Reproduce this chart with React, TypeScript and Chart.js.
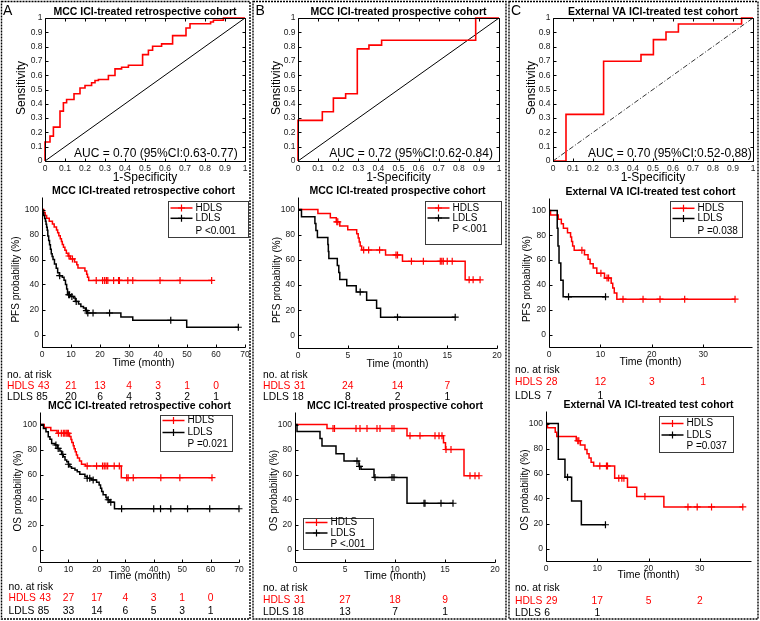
import React, { useEffect, useRef } from "react";
import { Chart, registerables } from "chart.js";

Chart.register(...registerables);

const FONT = '"Liberation Sans", Arial, Helvetica, sans-serif';
const RED = "#ff0000";
const BLACK = "#000000";
const TICK_COLOR = "#1a1a1a";
Chart.defaults.font.family = FONT;

// ---------------- shared labels / ticks ----------------
const rocTicks = [0, 0.1, 0.2, 0.3, 0.4, 0.5, 0.6, 0.7, 0.8, 0.9, 1];
const kmYTicks = [0, 20, 40, 60, 80, 100];
const timeTicksA = [0, 10, 20, 30, 40, 50, 60, 70];
const timeTicksB = [0, 5, 10, 15, 20];
const timeTicksC = [0, 10, 20, 30];
const riskTimesA = [0, 10, 20, 30, 40, 50, 60];
const riskTimesB = [0, 5, 10, 15];
const riskTimesC = [0, 10, 20, 30];

const groupNames = ["HDLS", "LDLS"];
const panelLetters = ["A", "B", "C"];
const cohortTitles = [
  "MCC ICI-treated retrospective cohort",
  "MCC ICI-treated prospective cohort",
  "External VA ICI-treated test cohort",
];
const aucLabels = [
  "AUC = 0.70 (95%CI:0.63-0.77)",
  "AUC = 0.72 (95%CI:0.62-0.84)",
  "AUC = 0.70 (95%CI:0.52-0.88)",
];
const pfsPLabels = ["P <0.001", "P <.001", "P =0.038"];
const osPLabels = ["P =0.021", "P <.001", "P =0.037"];
const rocXTitle = "1-Specificity";
const rocYTitle = "Sensitivity";
const kmXTitle = "Time (month)";
const pfsYTitle = "PFS probability (%)";
const osYTitle = "OS probability (%)";
const riskHeader = "no. at risk";

// ---------------- ROC curves ----------------
const diagX = [0, 1];
const diagY = [0, 1];
const rocA_fpr = [0, 0, 0.025, 0.042, 0.075, 0.092, 0.108, 0.145, 0.175, 0.2, 0.233, 0.25, 0.267, 0.317, 0.35, 0.383, 0.417, 0.488, 0.517, 0.538, 0.583, 0.638, 0.705, 0.725, 0.828, 0.842, 0.892, 1];
const rocA_tpr = [0, 0.133, 0.174, 0.237, 0.349, 0.407, 0.43, 0.47, 0.51, 0.528, 0.547, 0.563, 0.57, 0.598, 0.644, 0.656, 0.67, 0.744, 0.774, 0.802, 0.819, 0.877, 0.93, 0.96, 0.972, 0.984, 1, 1];
const rocB_fpr = [0, 0, 0.121, 0.176, 0.237, 0.295, 0.353, 0.416, 0.884, 1];
const rocB_tpr = [0, 0.284, 0.344, 0.44, 0.47, 0.784, 0.81, 0.844, 1, 1];
const rocC_fpr = [0, 0.065, 0.253, 0.44, 0.502, 0.565, 0.627, 0.943, 1];
const rocC_tpr = [0, 0.326, 0.698, 0.744, 0.849, 0.902, 0.958, 1, 1];

// ---------------- KM: PFS retrospective (A) ----------------
const pfsA_hdls_t = [0, 0.6, 1.1, 1.6, 2.5, 3.6, 4.2, 5.0, 5.4, 5.8, 6.3, 6.7, 7.0, 7.4, 7.9, 8.4, 9.0, 9.8, 11.2, 12.0, 12.4, 14.8, 15.4, 15.7, 16.1];
const pfsA_hdls_s = [100, 97.7, 95.3, 93.0, 90.7, 88.4, 86.0, 83.7, 81.4, 79.1, 76.7, 74.4, 72.1, 69.8, 67.4, 65.1, 62.8, 60.5, 58.1, 55.8, 53.3, 50.8, 48.3, 45.8, 43.3];
const pfsA_hdls_cens = [9.3, 10.5, 18.7, 20.9, 21.6, 22.2, 22.7, 24.7, 26.4, 26.7, 29.6, 31.3, 40.7, 47.6, 58.5];
const pfsA_ldls_t = [0, 0.3, 0.6, 0.9, 1.2, 1.4, 1.6, 1.8, 2.0, 2.3, 2.6, 2.9, 3.2, 3.5, 3.8, 4.3, 4.9, 5.4, 6.0, 7.0, 7.6, 8.1, 8.5, 8.8, 9.8, 10.9, 11.5, 12.6, 13.4, 14.3, 15.0, 15.6, 27.2, 31.3, 49.9];
const pfsA_ldls_s = [100, 97.6, 95.3, 92.9, 90.6, 88.2, 85.9, 83.5, 78.8, 75.3, 71.8, 68.2, 64.7, 62.4, 60.0, 56.5, 53.0, 49.4, 47.1, 45.9, 43.5, 40.0, 36.5, 31.8, 30.5, 29.2, 26.5, 24.4, 22.5, 21.2, 19.1, 17.2, 14.0, 11.4, 5.8];
const pfsA_ldls_cens = [6.1, 9.2, 9.5, 10.3, 11.8, 15.3, 15.8, 17.6, 23.3, 44.4, 67.7];
const pfsA_risk_hdls = [43, 21, 13, 4, 3, 1, 0];
const pfsA_risk_ldls = [85, 20, 6, 4, 3, 2, 1];

// ---------------- KM: OS retrospective (A) ----------------
const osA_hdls_t = [0, 1.5, 3.8, 6.0, 10.4, 10.9, 11.2, 11.7, 12.0, 12.4, 12.8, 13.2, 13.9, 14.6, 16.0, 28.6];
const osA_hdls_s = [100, 97.7, 95.3, 93.0, 90.5, 88.0, 85.6, 83.1, 80.6, 78.2, 75.7, 73.2, 70.8, 68.3, 66.8, 57.5];
const osA_hdls_cens = [6.5, 7.5, 8.2, 8.7, 9.2, 9.6, 10.0, 16.6, 19.9, 22.0, 22.6, 23.2, 23.8, 26.1, 27.9, 30.5, 31.0, 32.8, 42.5, 49.2, 60.5];
const osA_ldls_t = [0, 1.2, 2.1, 2.9, 3.5, 4.1, 5.3, 6.1, 7.0, 7.6, 8.2, 8.8, 9.4, 10.0, 10.5, 11.1, 12.3, 13.1, 14.0, 15.8, 16.6, 18.1, 19.9, 20.8, 21.3, 21.7, 22.2, 23.2, 23.6, 24.6, 26.2];
const osA_ldls_s = [100, 96.8, 94.2, 90.2, 88.3, 84.9, 83.6, 80.9, 78.8, 76.1, 74.3, 71.6, 70.3, 68.2, 66.3, 65.0, 63.7, 62.3, 60.2, 58.4, 57.0, 55.7, 53.8, 51.7, 49.1, 46.4, 43.8, 41.6, 39.8, 37.9, 32.6];
const osA_ldls_cens = [5.6, 6.4, 8.0, 10.0, 16.6, 17.5, 18.7, 24.0, 24.9, 28.7, 40.0, 42.4, 46.0, 51.9, 59.7, 70.0];
const osA_risk_hdls = [43, 27, 17, 4, 3, 1, 0];
const osA_risk_ldls = [85, 33, 14, 6, 5, 3, 1];

// ---------------- KM: PFS prospective (B) ----------------
const pfsB_hdls_t = [0, 2.0, 3.25, 3.85, 4.2, 5.0, 5.9, 6.05, 6.15, 6.25, 6.4, 8.8, 10.5, 16.8];
const pfsB_hdls_s = [100, 96.8, 93.5, 90.3, 87.0, 84.0, 80.7, 77.5, 74.3, 71.1, 67.9, 64.0, 58.9, 44.2];
const pfsB_hdls_cens = [3.9, 4.0, 6.6, 7.1, 8.2, 9.85, 10.0, 11.4, 12.6, 14.3, 14.45, 14.6, 15.0, 15.5, 17.2, 17.6, 18.3];
const pfsB_ldls_t = [0, 0.35, 1.7, 1.8, 1.95, 3.0, 3.05, 3.1, 3.95, 4.1, 4.2, 4.9, 5.85, 6.9, 7.9, 8.3];
const pfsB_ldls_s = [100, 94.4, 88.9, 83.3, 77.8, 72.2, 66.7, 61.1, 55.6, 50.0, 44.4, 39.5, 34.5, 27.9, 21.5, 14.5];
const pfsB_ldls_cens = [6.25, 10.0, 15.8];
const pfsB_risk_hdls = [31, 24, 14, 7];
const pfsB_risk_ldls = [18, 8, 2, 1];

// ---------------- KM: OS prospective (B) ----------------
const osB_hdls_t = [0, 3.2, 11.2, 14.85, 15.05, 16.9];
const osB_hdls_s = [100, 96.8, 91.0, 85.5, 80.0, 59.0];
const osB_hdls_cens = [3.8, 3.95, 6.1, 6.5, 7.2, 8.2, 8.5, 9.7, 9.9, 11.5, 12.5, 14.0, 14.4, 14.7, 15.1, 15.6, 17.5, 18.0, 18.4];
const osB_ldls_t = [0, 0.2, 2.5, 2.7, 4.1, 4.9, 6.4, 6.6, 7.9, 11.2];
const osB_ldls_s = [100, 94.4, 88.9, 82.8, 76.7, 70.8, 66.5, 64.2, 57.7, 37.0];
const osB_ldls_cens = [6.2, 6.45, 8.0, 9.7, 9.9, 12.9, 13.0, 14.6, 15.8];
const osB_risk_hdls = [31, 27, 18, 9];
const osB_risk_ldls = [18, 13, 7, 1];

// ---------------- KM: PFS external (C) ----------------
const pfsC_hdls_t = [0, 0.3, 1.8, 2.4, 2.8, 3.6, 4.2, 4.4, 4.6, 4.9, 6.9, 7.6, 8.0, 8.6, 9.3, 10.8, 12.1, 12.4, 12.7, 13.2];
const pfsC_hdls_s = [100, 96.4, 92.9, 89.3, 85.7, 82.1, 78.6, 75.0, 71.4, 67.9, 64.3, 60.7, 57.1, 53.6, 49.3, 45.5, 41.3, 37.5, 33.5, 28.5];
const pfsC_hdls_cens = [6.4, 10.1, 11.3, 11.6, 14.4, 18.3, 21.6, 26.4, 36.2];
const pfsC_ldls_t = [0, 1.6, 1.75, 1.95, 2.3, 2.75];
const pfsC_ldls_s = [100, 85.7, 71.4, 57.7, 43.8, 30.4];
const pfsC_ldls_cens = [3.8, 11.0];
const pfsC_risk_hdls = [28, 12, 3, 1];
const pfsC_risk_ldls = [7, 1];

// ---------------- KM: OS external (C) ----------------
const osC_hdls_t = [0, 0.3, 1.8, 2.1, 5.9, 6.7, 7.6, 8.0, 8.4, 8.8, 9.3, 13.4, 15.9, 17.7, 23.0];
const osC_hdls_s = [100, 96.6, 93.1, 89.7, 86.2, 82.8, 79.3, 75.9, 72.4, 69.0, 66.0, 56.3, 49.1, 41.6, 33.3];
const osC_hdls_cens = [6.2, 6.4, 10.5, 11.8, 12.0, 14.2, 14.8, 15.2, 19.3, 27.7, 29.5, 32.3, 38.4];
const osC_ldls_t = [0, 2.4, 3.7, 5.0, 6.9];
const osC_ldls_s = [100, 71.4, 57.1, 38.1, 19.0];
const osC_ldls_cens = [4.2, 11.6];
const osC_risk_hdls = [29, 17, 5, 2];
const osC_risk_ldls = [6, 1];

// ---------------- helpers ----------------
function stepAt(ts: number[], ss: number[], t: number) {
  let v = ss[0];
  for (let i = 0; i < ts.length; i++) if (ts[i] <= t) v = ss[i];
  return v;
}

const Y_AXIS_W = 20;
const X_AXIS_H = 12;

function padFor(spec: any) {
  const c = spec.canvas, p = spec.plot;
  return {
    left: p.l - c.x - Y_AXIS_W,
    top: p.t - c.y,
    right: c.x + c.w - p.r,
    bottom: c.y + c.h - p.b - X_AXIS_H,
  };
}

function linAxis(min: number, max: number, ticks: number[], pad: number, prop: string, size: number) {
  return {
    type: "linear",
    min,
    max,
    afterBuildTicks: (s: any) => {
      s.ticks = ticks.map((v) => ({ value: v }));
    },
    afterFit: (s: any) => {
      s[prop] = size;
    },
    ticks: {
      autoSkip: false,
      maxRotation: 0,
      minRotation: 0,
      padding: pad,
      color: TICK_COLOR,
      font: { family: FONT, size: 8.5 },
      callback: (v: any) => String(v),
    },
    grid: { display: false, drawTicks: false },
    border: { display: false },
  };
}

function decorPlugin(spec: any, kind: string) {
  return {
    id: "decor",
    afterDraw(chart: any) {
      const ctx = chart.ctx;
      const a = chart.chartArea;
      const xs = chart.scales.x;
      const ys = chart.scales.y;
      const L = Math.round(a.left) + 0.5;
      const R = Math.round(a.right) + 0.5;
      const T = Math.round(a.top) + 0.5;
      const B = Math.round(a.bottom) + 0.5;
      ctx.save();
      ctx.strokeStyle = "#000";
      ctx.lineWidth = 1;
      ctx.beginPath();
      if (kind === "roc") {
        ctx.rect(L, T, R - L, B - T);
      } else {
        ctx.moveTo(L, T);
        ctx.lineTo(L, B);
        ctx.lineTo(R, B);
      }
      ctx.stroke();
      // inward ticks
      const tl = 3;
      ctx.beginPath();
      for (const t of xs.ticks) {
        const px = Math.round(xs.getPixelForValue(t.value)) + 0.5;
        ctx.moveTo(px, B);
        ctx.lineTo(px, B - tl);
        if (kind === "roc") {
          ctx.moveTo(px, T);
          ctx.lineTo(px, T + tl);
        }
      }
      for (const t of ys.ticks) {
        const py = Math.round(ys.getPixelForValue(t.value)) + 0.5;
        ctx.moveTo(L, py);
        ctx.lineTo(L + tl, py);
        if (kind === "roc") {
          ctx.moveTo(R, py);
          ctx.lineTo(R - tl, py);
        }
      }
      ctx.stroke();

      const cx = (a.left + a.right) / 2;
      ctx.fillStyle = "#000";
      ctx.textBaseline = "middle";
      // title
      ctx.font = `bold 10.5px ${FONT}`;
      ctx.textAlign = "center";
      ctx.fillText(spec.title, cx, a.top - 5.5);
      // x title
      ctx.font = kind === "roc" ? `12px ${FONT}` : `10.5px ${FONT}`;
      ctx.fillText(spec.xTitle, cx, a.bottom + spec.xTitleDy);
      // y title
      ctx.save();
      ctx.font = kind === "roc" ? `12px ${FONT}` : `10px ${FONT}`;
      const yc = kind === "roc" ? (a.top + a.bottom) / 2 - 1.5 : a.top + spec.yTitleDy;
      ctx.translate(a.left - spec.yTitleDx, yc);
      ctx.rotate(-Math.PI / 2);
      ctx.fillText(spec.yTitle, 0, 0);
      ctx.restore();

      if (kind === "roc") {
        ctx.font = `12px ${FONT}`;
        ctx.textAlign = "left";
        ctx.fillText(spec.auc, xs.getPixelForValue(spec.aucPos[0]), ys.getPixelForValue(spec.aucPos[1]));
      } else {
        // legend
        const lg = spec.legend;
        const bx = Math.round(a.left + lg.dx) + 0.5;
        const by = Math.round(a.top + lg.dy) + 0.5;
        ctx.fillStyle = "#fff";
        ctx.fillRect(bx, by, lg.w, lg.h);
        ctx.strokeStyle = "#3a3a3a";
        ctx.lineWidth = 1;
        ctx.strokeRect(bx, by, lg.w, lg.h);
        ctx.font = `10px ${FONT}`;
        ctx.textAlign = "left";
        spec.groups.forEach((g: any, i: number) => {
          const y = by + lg.rows[i];
          ctx.strokeStyle = g.color;
          ctx.lineWidth = 1.5;
          ctx.beginPath();
          ctx.moveTo(bx + 2, y);
          ctx.lineTo(bx + 24, y);
          ctx.stroke();
          const mx = bx + 13;
          ctx.lineWidth = 1.2;
          ctx.beginPath();
          ctx.moveTo(mx, y - 3.5);
          ctx.lineTo(mx, y + 3.5);
          ctx.moveTo(mx - 3.5, y);
          ctx.lineTo(mx + 3.5, y);
          ctx.stroke();
          ctx.fillStyle = "#000";
          ctx.fillText(g.label, bx + 27, y);
        });
        ctx.fillText(spec.p, bx + 27, by + lg.rows[2]);

        // risk table
        ctx.font = `10.3px ${FONT}`;
        const lx = a.left + (spec.riskLabelX - spec.plot.l);
        ctx.fillStyle = "#000";
        ctx.textAlign = "left";
        ctx.fillText(riskHeader, lx, a.bottom + spec.riskDy[0]);
        spec.groups.forEach((g: any, gi: number) => {
          const y = a.bottom + spec.riskDy[gi + 1];
          ctx.fillStyle = g.color;
          ctx.textAlign = "left";
          ctx.fillText(g.label, lx, y);
          const labelEnd = lx + ctx.measureText(g.label).width;
          spec.risk[gi].forEach((n: number, j: number) => {
            const txt = String(n);
            const w = ctx.measureText(txt).width;
            let left = xs.getPixelForValue(spec.riskTimes[j]) - w / 2;
            if (j === 0) left = Math.max(left, labelEnd + 3.5);
            ctx.textAlign = "left";
            ctx.fillText(txt, left, y);
          });
        });
      }
      ctx.restore();
    },
  };
}

function baseOptions(spec: any, xMin: number, xMax: number, xTicks: number[], yMin: number, yMax: number, yTicks: number[], yPad: number) {
  return {
    animation: false,
    responsive: false,
    devicePixelRatio: 1,
    events: [],
    layout: { padding: padFor(spec) },
    plugins: { legend: { display: false }, tooltip: { enabled: false }, title: { display: false } },
    scales: {
      x: linAxis(xMin, xMax, xTicks, 3, "height", X_AXIS_H),
      y: linAxis(yMin, yMax, yTicks, yPad, "width", Y_AXIS_W),
    },
  };
}

function rocConfig(spec: any) {
  const curve = spec.fpr.map((x: number, i: number) => ({ x, y: spec.tpr[i] }));
  const diag = diagX.map((x, i) => ({ x, y: diagY[i] }));
  return {
    type: "line",
    data: {
      datasets: [
        { data: curve, stepped: "before", borderColor: RED, borderWidth: 1.6, pointRadius: 0, fill: false, clip: 4 },
        { data: diag, borderColor: BLACK, borderWidth: spec.diagDash.length ? 0.8 : 1, borderDash: spec.diagDash, pointRadius: 0, fill: false },
      ],
    },
    options: baseOptions(spec, 0, 1, rocTicks, 0, 1, rocTicks, 2.5),
    plugins: [decorPlugin(spec, "roc")],
  };
}

function kmConfig(spec: any) {
  const datasets: any[] = [];
  for (const gi of [1, 0]) {
    const g = spec.groups[gi];
    const pts = g.t.map((x: number, i: number) => ({ x, y: g.s[i] }));
    const lastT = g.t[g.t.length - 1];
    const endT = Math.max(lastT, ...g.cens);
    if (endT > lastT) pts.push({ x: endT, y: g.s[g.s.length - 1] });
    datasets.push({
      data: g.cens.map((c: number) => ({ x: c, y: stepAt(g.t, g.s, c) })),
      showLine: false,
      pointStyle: "cross",
      pointRadius: 3.5,
      pointBorderWidth: 1.2,
      borderColor: g.color,
      backgroundColor: g.color,
      clip: 6,
    });
    datasets.push({ data: pts, stepped: "before", borderColor: g.color, borderWidth: 1.5, pointRadius: 0, fill: false, clip: 6 });
  }
  return {
    type: "line",
    data: { datasets },
    options: baseOptions(spec, 0, spec.xMax, spec.xTicks, -10, 110, kmYTicks, 3),
    plugins: [decorPlugin(spec, "km")],
  };
}

// ---------------- chart specs (layout in page pixels) ----------------
const rocSpecs = [
  { canvas: { x: 0, y: 0, w: 256, h: 190 }, plot: { l: 45, t: 18, r: 245, b: 161 }, fpr: rocA_fpr, tpr: rocA_tpr, title: cohortTitles[0], auc: aucLabels[0], aucPos: [0.145, 0.052], yTitleDx: 23, diagDash: [] },
  { canvas: { x: 250, y: 0, w: 262, h: 190 }, plot: { l: 298, t: 18, r: 499, b: 161 }, fpr: rocB_fpr, tpr: rocB_tpr, title: cohortTitles[1], auc: aucLabels[1], aucPos: [0.155, 0.052], yTitleDx: 21, diagDash: [] },
  { canvas: { x: 504, y: 0, w: 256, h: 190 }, plot: { l: 553, t: 18, r: 753, b: 161 }, fpr: rocC_fpr, tpr: rocC_tpr, title: cohortTitles[2], auc: aucLabels[2], aucPos: [0.175, 0.052], yTitleDx: 21, diagDash: [5, 2, 1, 2] },
].map((s) => ({ ...s, xTitle: rocXTitle, yTitle: rocYTitle, xTitleDy: 16.5 }));

function groups(ht: number[], hs: number[], hc: number[], lt: number[], ls: number[], lc: number[]) {
  return [
    { label: groupNames[0], color: RED, t: ht, s: hs, cens: hc },
    { label: groupNames[1], color: BLACK, t: lt, s: ls, cens: lc },
  ];
}

const kmSpecs = [
  {
    canvas: { x: 0, y: 180, w: 256, h: 225 }, plot: { l: 42, t: 197, r: 245, b: 347 }, xMax: 70, xTicks: timeTicksA,
    title: cohortTitles[0], yTitle: pfsYTitle, p: pfsPLabels[0],
    groups: groups(pfsA_hdls_t, pfsA_hdls_s, pfsA_hdls_cens, pfsA_ldls_t, pfsA_ldls_s, pfsA_ldls_cens),
    legend: { dx: 126, dy: 4, w: 80, h: 36, rows: [6.5, 16.8, 29.3] },
    riskTimes: riskTimesA, risk: [pfsA_risk_hdls, pfsA_risk_ldls], riskLabelX: 7, riskDy: [28, 39, 50],
    yTitleDx: 25.5, yTitleDy: 82.5, xTitleDy: 16.5,
  },
  {
    canvas: { x: 250, y: 180, w: 262, h: 225 }, plot: { l: 298, t: 197, r: 497, b: 348 }, xMax: 20, xTicks: timeTicksB,
    title: cohortTitles[1], yTitle: pfsYTitle, p: pfsPLabels[1],
    groups: groups(pfsB_hdls_t, pfsB_hdls_s, pfsB_hdls_cens, pfsB_ldls_t, pfsB_ldls_s, pfsB_ldls_cens),
    legend: { dx: 127, dy: 4, w: 76, h: 43, rows: [6.5, 16.5, 27.8] },
    riskTimes: riskTimesB, risk: [pfsB_risk_hdls, pfsB_risk_ldls], riskLabelX: 263, riskDy: [27, 37.7, 48.7],
    yTitleDx: 21, yTitleDy: 83, xTitleDy: 15.7,
  },
  {
    canvas: { x: 504, y: 180, w: 256, h: 225 }, plot: { l: 549, t: 198, r: 752, b: 347 }, xMax: 39.5, xTicks: timeTicksC,
    title: cohortTitles[2], yTitle: pfsYTitle, p: pfsPLabels[2],
    groups: groups(pfsC_hdls_t, pfsC_hdls_s, pfsC_hdls_cens, pfsC_ldls_t, pfsC_ldls_s, pfsC_ldls_cens),
    legend: { dx: 121, dy: 3, w: 72, h: 36, rows: [6.8, 17, 29.5] },
    riskTimes: riskTimesC, risk: [pfsC_risk_hdls, pfsC_risk_ldls], riskLabelX: 515, riskDy: [23.5, 35.5, 49],
    yTitleDx: 21.5, yTitleDy: 81, xTitleDy: 15.5,
  },
  {
    canvas: { x: 0, y: 398, w: 256, h: 223 }, plot: { l: 40, t: 412, r: 239, b: 562 }, xMax: 70, xTicks: timeTicksA,
    title: cohortTitles[0], yTitle: osYTitle, p: osPLabels[0],
    groups: groups(osA_hdls_t, osA_hdls_s, osA_hdls_cens, osA_ldls_t, osA_ldls_s, osA_ldls_cens),
    legend: { dx: 120, dy: 3, w: 72, h: 36, rows: [5, 17, 29] },
    riskTimes: riskTimesA, risk: [osA_risk_hdls, osA_risk_ldls], riskLabelX: 8.5, riskDy: [24.7, 36.3, 49],
    yTitleDx: 21.5, yTitleDy: 79, xTitleDy: 14,
  },
  {
    canvas: { x: 250, y: 398, w: 262, h: 223 }, plot: { l: 295, t: 412, r: 495, b: 562 }, xMax: 20, xTicks: timeTicksB,
    title: cohortTitles[1], yTitle: osYTitle, p: osPLabels[1],
    groups: groups(osB_hdls_t, osB_hdls_s, osB_hdls_cens, osB_ldls_t, osB_ldls_s, osB_ldls_cens),
    legend: { dx: 8, dy: 106, w: 70, h: 31, rows: [4, 14.5, 25.5] },
    riskTimes: riskTimesB, risk: [osB_risk_hdls, osB_risk_ldls], riskLabelX: 263, riskDy: [25.7, 38, 49.7],
    yTitleDx: 21, yTitleDy: 78.5, xTitleDy: 14,
  },
  {
    canvas: { x: 504, y: 398, w: 256, h: 223 }, plot: { l: 546, t: 411, r: 751, b: 561 }, xMax: 40, xTicks: timeTicksC,
    title: cohortTitles[2], yTitle: osYTitle, p: osPLabels[2],
    groups: groups(osC_hdls_t, osC_hdls_s, osC_hdls_cens, osC_ldls_t, osC_ldls_s, osC_ldls_cens),
    legend: { dx: 113, dy: 5, w: 74, h: 36, rows: [7, 18.5, 30] },
    riskTimes: riskTimesC, risk: [osC_risk_hdls, osC_risk_ldls], riskLabelX: 515, riskDy: [26.7, 39.7, 52.3],
    yTitleDx: 20.5, yTitleDy: 79, xTitleDy: 14.5,
  },
].map((s) => ({ ...s, xTitle: kmXTitle }));

function ChartCanvas({ spec, kind }: { spec: any; kind: string }) {
  const ref = useRef<HTMLCanvasElement>(null);
  useEffect(() => {
    const cfg: any = kind === "roc" ? rocConfig(spec) : kmConfig(spec);
    const chart = new Chart(ref.current as HTMLCanvasElement, cfg);
    return () => chart.destroy();
  }, []);
  const c = spec.canvas;
  return (
    <canvas
      ref={ref}
      width={c.w}
      height={c.h}
      style={{ position: "absolute", left: c.x, top: c.y, width: c.w, height: c.h }}
    />
  );
}

const panelBoxes = [
  { x: 1.5, y: 1.5, w: 248.5, h: 617.5 },
  { x: 253, y: 1.5, w: 253, h: 617.5 },
  { x: 509, y: 1.5, w: 249, h: 617.5 },
];
const letterPos = [3, 255.5, 511];

export default function App() {
  return (
    <div
      style={{
        position: "absolute",
        left: 0,
        top: 0,
        width: 760,
        height: 621,
        background: "#fff",
        overflow: "hidden",
        fontFamily: FONT,
      }}
    >
      {rocSpecs.map((s, i) => (
        <ChartCanvas key={"roc" + i} spec={s} kind="roc" />
      ))}
      {kmSpecs.map((s, i) => (
        <ChartCanvas key={"km" + i} spec={s} kind="km" />
      ))}
      <svg width={760} height={621} style={{ position: "absolute", left: 0, top: 0, pointerEvents: "none" }}>
        {panelBoxes.map((b, i) => (
          <rect key={i} x={b.x} y={b.y} width={b.w} height={b.h} fill="none" stroke="#000" strokeWidth={1.4} strokeDasharray="2 1" />
        ))}
      </svg>
      {panelLetters.map((t, i) => (
        <div
          key={t}
          style={{ position: "absolute", left: letterPos[i], top: 3, fontSize: 14, lineHeight: "14px", color: "#000" }}
        >
          {t}
        </div>
      ))}
    </div>
  );
}
